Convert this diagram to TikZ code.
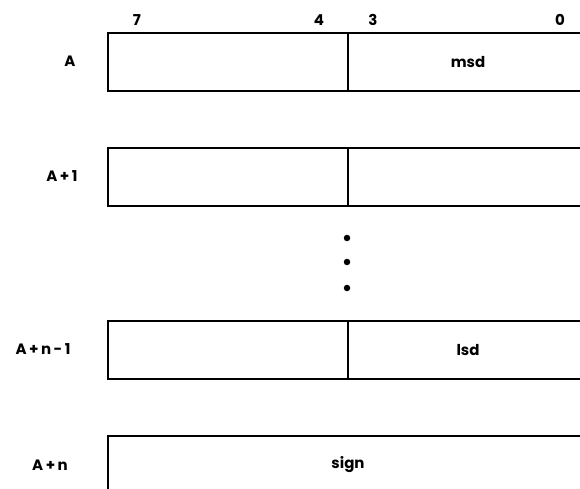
\documentclass[tikz,border=0pt]{standalone}
\usepackage{tikz}
\usetikzlibrary{positioning}
\usepackage{fontspec}
\setsansfont{Poppins}

\begin{document}
\begin{tikzpicture}[x=1pt,y=-1pt,
  cell/.style={rectangle, draw, line width=2pt, minimum height=58pt, inner sep=0pt, anchor=north west, font=\sffamily\bfseries\fontsize{15}{17}\selectfont},
  half/.style={cell, minimum width=240pt},
  whole/.style={cell, minimum width=480pt},
  lbl/.style={font=\sffamily\bfseries\fontsize{15}{17}\selectfont},
  bitno/.style={font=\sffamily\bfseries\fontsize{15}{17}\selectfont},
  vdot/.style={circle, fill, inner sep=0pt, minimum size=6.5pt},
]
\useasboundingbox (0,0) rectangle (580,489);
\clip (0,0) rectangle (580,489);

% --- row tops and column edges (pixels of the page) ---
\def\xL{107}\def\xM{347}
\def\yA{32}\def\yB{147}\def\yC{320}\def\yD{435}

% --- the four byte rows ---
\node[half] (aLo) at (\xL,\yA) {};
\node[half] (aHi) at (\xM,\yA) {msd};
\node[half] (bLo) at (\xL,\yB) {};
\node[half] (bHi) at (\xM,\yB) {};
\node[half] (cLo) at (\xL,\yC) {};
\node[half] (cHi) at (\xM,\yC) {lsd};
\node[whole] (dAll) at (\xL,\yD) {sign};

% --- address labels ---
\node[lbl] (labA) at (70,\yA+29) {A};
\node[lbl] (labB) at (62,\yB+29) {A\,+\,1};
\node[lbl] (labC) at (43,\yC+29) {A\,+\,n\,-\,1};
\node[lbl] (labD) at (50,\yD+30) {A\,+\,n};

% --- bit numbers over the first row ---
\node[bitno] (b7) at (137,20) {7};
\node[bitno] (b4) at (319,20) {4};
\node[bitno] (b3) at (373,20) {3};
\node[bitno] (b0) at (560,20) {0};

% --- ellipsis between A+1 and A+n-1 ---
\node[vdot] (d1) at (\xM,238) {};
\node[vdot] (d2) at (\xM,262) {};
\node[vdot] (d3) at (\xM,288) {};

\end{tikzpicture}
\end{document}
